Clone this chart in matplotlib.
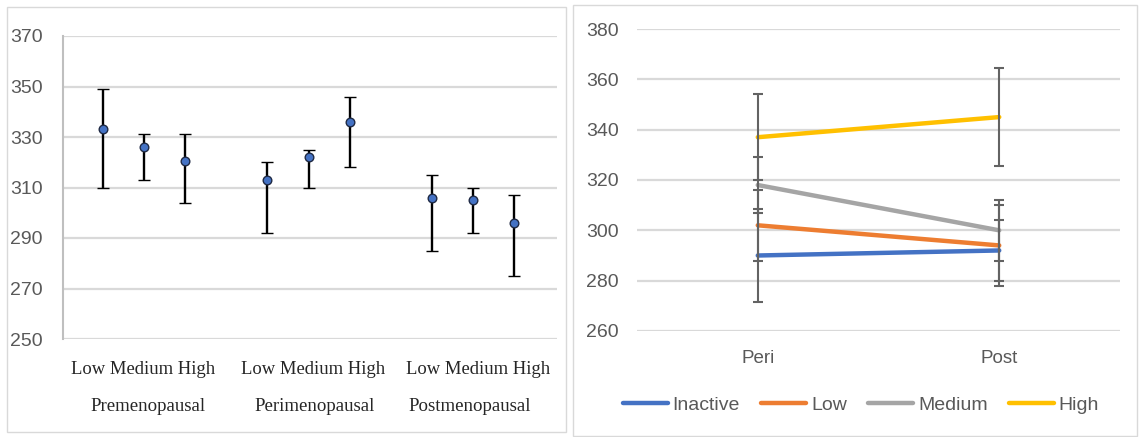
import matplotlib
matplotlib.use("Agg")
import matplotlib.pyplot as plt
from matplotlib.patches import Rectangle
from matplotlib.lines import Line2D
import numpy as np

# ---------------- data: left panel ----------------
groups = ["Premenopausal", "Perimenopausal", "Postmenopausal"]
levels = ["Low", "Medium", "High"]
left_means = [333, 326, 320.5, 313, 322, 336, 306, 305, 296]
left_upper = [349, 331, 331, 320, 325, 346, 315, 310, 307]
left_lower = [310, 313, 304, 292, 310, 318, 285, 292, 275]
left_yticks = [250, 270, 290, 310, 330, 350, 370]

# ---------------- data: right panel ----------------
periods = ["Peri", "Post"]
series_names = ["Inactive", "Low", "Medium", "High"]
inactive = [290, 292]
low = [302, 294]
medium = [318, 300]
high = [337, 345]
inactive_err = [18.5, 12]
low_err = [14, 16]
medium_err = [11, 12]
high_err = [17, 19.5]
right_yticks = [260, 280, 300, 320, 340, 360, 380]

colors = ["#4472C4", "#ED7D31", "#A5A5A5", "#FFC000"]
tick_color = "#595959"
grid_color = "#D9D9D9"

W, H = 1141, 437
fig = plt.figure(figsize=(W / 100, H / 100), dpi=100)

def fx(px):
    return px / W

def fy(py):
    return 1 - py / H

# panel frames
fig.patches.append(Rectangle((fx(7), fy(432)), fx(566) - fx(7), fy(7) - fy(432),
                             transform=fig.transFigure, fill=False, ec="#D9D9D9", lw=1))
fig.patches.append(Rectangle((fx(573), fy(436)), fx(1137) - fx(573), fy(5) - fy(436),
                             transform=fig.transFigure, fill=False, ec="#D9D9D9", lw=1))

# ---------------- left panel ----------------
axL = fig.add_axes([fx(63), fy(339), fx(557) - fx(63), fy(36) - fy(339)])
pos = []
for g in range(len(groups)):
    for k in range(len(levels)):
        pos.append(g * 4 + k)
pos = np.array(pos)
means = np.array(left_means)
yerr = np.vstack([means - np.array(left_lower), np.array(left_upper) - means])
axL.errorbar(pos, means, yerr=yerr, fmt="o", color="black", ecolor="black",
             elinewidth=1.7, capsize=4.2, capthick=1.7, markersize=6.2,
             markerfacecolor="#4472C4", markeredgecolor="#1F2A44", markeredgewidth=1.0,
             zorder=3)
axL.set_xlim(-0.98, 11.05)
axL.set_ylim(250, 370)
axL.set_yticks(left_yticks)
axL.yaxis.grid(True, color=grid_color, lw=1.6)
axL.set_axisbelow(True)
axL.set_xticks([])
for s in ["top", "right", "bottom"]:
    axL.spines[s].set_visible(False)
axL.spines["left"].set_color("#BFBFBF")
axL.spines["left"].set_linewidth(1.5)
axL.tick_params(axis="y", length=0, pad=14.5, labelcolor=tick_color, labelsize=14)
for lab in axL.get_yticklabels():
    lab.set_fontfamily("Liberation Sans")
trans = matplotlib.transforms.blended_transform_factory(axL.transData, axL.transAxes)
level_label_x = [0.98, 5.1, 9.12]
group_label_x = [1.1, 5.15, 8.93]
for g, name in enumerate(groups):
    axL.text(level_label_x[g], -0.102, " ".join(levels), transform=trans, ha="center",
             va="center", fontsize=13.4, family="Liberation Serif", color="#262626")
    axL.text(group_label_x[g], -0.222, name, transform=trans, ha="center", va="center",
             fontsize=13.6, family="Liberation Serif", color="#262626")

# ---------------- right panel ----------------
axR = fig.add_axes([fx(637), fy(331), fx(1120) - fx(637), fy(29) - fy(331)])
xr = np.arange(len(periods))
all_series = [inactive, low, medium, high]
all_err = [inactive_err, low_err, medium_err, high_err]
for vals, c, name in zip(all_series, colors, series_names):
    axR.plot(xr, vals, color=c, lw=3.2, solid_capstyle="round", label=name, zorder=2)
for vals, err in zip(all_series, all_err):
    axR.errorbar(xr, vals, yerr=err, fmt="none", ecolor="#636363", elinewidth=1.5,
                 capsize=3.8, capthick=1.5, zorder=3)
axR.set_xlim(-0.5, 1.5)
axR.set_ylim(260, 380)
axR.set_yticks(right_yticks)
axR.set_xticks(xr)
axR.set_xticklabels(periods)
axR.yaxis.grid(True, color=grid_color, lw=1.6)
axR.set_axisbelow(True)
for s in ["top", "right", "bottom", "left"]:
    axR.spines[s].set_visible(False)
axR.tick_params(axis="y", length=0, pad=13, labelcolor=tick_color, labelsize=14)
axR.tick_params(axis="x", length=0, pad=14, labelcolor=tick_color, labelsize=13.5)
for lab in axR.get_yticklabels() + axR.get_xticklabels():
    lab.set_fontfamily("Liberation Sans")

handles = [Line2D([0], [0], color=c, lw=3.2, solid_capstyle="round") for c in colors]
leg = fig.legend(handles, series_names, loc="center", bbox_to_anchor=(fx(861), fy(405)),
                 ncol=4, frameon=False, handlelength=2.3, handletextpad=0.25,
                 columnspacing=1.1, prop={"family": "Liberation Sans", "size": 14})
for t in leg.get_texts():
    t.set_color(tick_color)

fig.savefig("out.png", dpi=100)
